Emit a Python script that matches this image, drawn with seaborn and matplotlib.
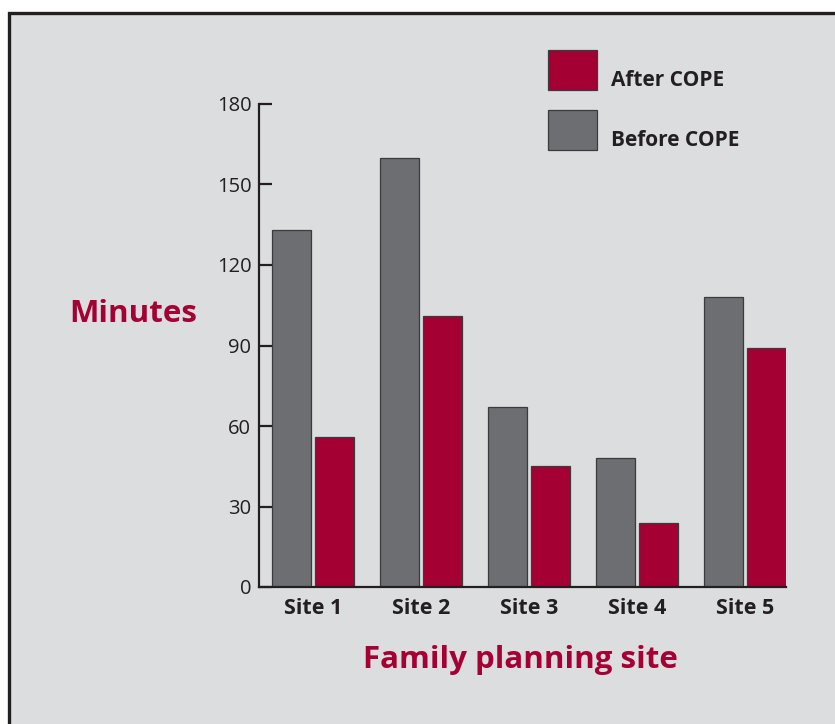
import numpy as np
import pandas as pd
import matplotlib
matplotlib.use('Agg')
import matplotlib.pyplot as plt
from matplotlib.patches import Rectangle
import seaborn as sns

sites = ['Site 1', 'Site 2', 'Site 3', 'Site 4', 'Site 5']
before_cope = [133, 160, 67, 48, 108]
after_cope = [56, 101, 45, 24, 89]
series = ['Before COPE', 'After COPE']
y_ticks = [0, 30, 60, 90, 120, 150, 180]

GRAY = '#6d6e71'
RED = '#a50034'
BG = '#dcdddf'
INK = '#231f20'

df = pd.DataFrame({
    'site': sites * 2,
    'minutes': before_cope + after_cope,
    'series': [series[0]] * len(sites) + [series[1]] * len(sites),
})

sns.set_style('white')
plt.rcParams['font.family'] = ['Open Sans', 'DejaVu Sans']

W, H = 835, 724
fig = plt.figure(figsize=(W / 100, H / 100), dpi=100)
fig.patch.set_facecolor('white')

# grey panel with dark frame (runs off the right/bottom edge)
frame = Rectangle((9 / W, -0.1), 1.2, 0.1 + 1 - 13 / H, transform=fig.transFigure,
                  facecolor=BG, edgecolor=INK, linewidth=2.4, zorder=-1)
fig.patches.append(frame)

ax = fig.add_axes([259 / W, 1 - 587 / H, (786 - 259) / W, (587 - 104) / H])
ax.set_facecolor('none')

sns.barplot(data=df, x='site', y='minutes', hue='series', hue_order=series,
            palette=[GRAY, RED], width=0.8, gap=0.09, edgecolor='#3b3b3d',
            linewidth=0.9, saturation=1, legend=False, ax=ax)

ax.set_xlim(-0.5, 4.38)
ax.set_ylim(0, 180)
ax.set_yticks(y_ticks)
ax.set_yticklabels([str(t) for t in y_ticks])

for s in ['top', 'right']:
    ax.spines[s].set_visible(False)
for s in ['left', 'bottom']:
    ax.spines[s].set_color(INK)
    ax.spines[s].set_linewidth(1.6)

ax.tick_params(axis='y', left=True, direction='in', length=9.5, width=1.6,
               color=INK, pad=5.5, labelsize=14.5, labelcolor=INK)
ax.tick_params(axis='x', bottom=False, length=0, pad=8, labelsize=15.5,
               labelcolor=INK)
for lbl in ax.get_xticklabels():
    lbl.set_fontweight('bold')

ax.set_ylabel('Minutes', rotation=0, fontsize=22.5, fontweight='bold', color=RED,
              ha='center', va='center')
ax.yaxis.set_label_coords(-0.239, 0.566)
ax.set_xlabel('Family planning site', fontsize=22.5, fontweight='bold', color=RED,
              ha='center', va='center')
ax.xaxis.set_label_coords(0.497, -0.151)

# legend drawn by hand: box on the left, label sitting low beside it
legend_items = [(series[1], RED, 50), (series[0], GRAY, 110)]
for name, col, top in legend_items:
    fig.patches.append(Rectangle((548 / W, 1 - (top + 40) / H), 49 / W, 40 / H,
                                 transform=fig.transFigure, facecolor=col,
                                 edgecolor='#3b3b3d', linewidth=0.9))
    fig.text(611 / W, 1 - (top + 31) / H, name, fontsize=15, fontweight='bold',
             color=INK, ha='left', va='center')

fig.savefig('out.png', dpi=100, facecolor='white')
print('OK')
